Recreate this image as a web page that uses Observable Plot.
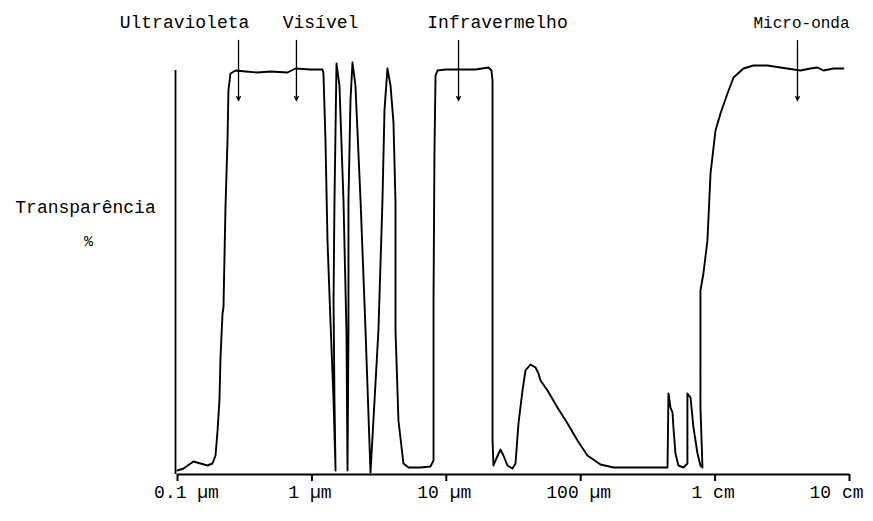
<!DOCTYPE html>
<html>
<head>
<meta charset="utf-8">
<script src="https://cdn.jsdelivr.net/npm/d3@7"></script>
<script src="https://cdn.jsdelivr.net/npm/@observablehq/plot@0.6"></script>
<style>
  html, body { margin: 0; padding: 0; background: #fff; overflow: hidden; }
  #chart svg { display: block; }
</style>
</head>
<body>
<div id="chart"></div>
<script>
// x: log10 of the nominal wavelength position (µm), read along the axis; y: transparency %
const logWavelength = [
  -1.000, -0.955, -0.881, -0.829, -0.777, -0.740, -0.717, -0.702, -0.688, -0.680, -0.665, -0.658, -0.643, -0.628, -0.621, -0.606, -0.568,
  -0.494, -0.405, -0.308, -0.182, -0.122, -0.010, 0.079,
  0.086, 0.101, 0.116, 0.138, 0.161, 0.176,
  0.168, 0.161, 0.168, 0.183,
  0.205, 0.235, 0.257, 0.265,
  0.272, 0.272, 0.287, 0.302,
  0.324, 0.362, 0.399, 0.436,
  0.466, 0.495, 0.525, 0.540, 0.562,
  0.585, 0.607, 0.622, 0.622, 0.644, 0.681, 0.719,
  0.808, 0.882,
  0.905, 0.905, 0.912, 0.920, 0.934,
  0.994, 1.106, 1.217, 1.314, 1.336,
  1.344, 1.344, 1.344, 1.344, 1.351,
  1.366, 1.403, 1.425, 1.455, 1.492, 1.515, 1.537, 1.567, 1.589, 1.626, 1.664, 1.686, 1.701, 1.753, 1.827, 1.902, 1.976, 2.050, 2.147, 2.244, 2.393, 2.646,
  2.653, 2.668, 2.683, 2.690, 2.705, 2.727, 2.765, 2.794, 2.794, 2.817, 2.839, 2.869, 2.891, 2.906,
  2.891, 2.891, 2.913, 2.943, 2.966, 3.003, 3.040, 3.092, 3.137, 3.211, 3.285, 3.390, 3.486, 3.635, 3.710, 3.762, 3.806, 3.881, 3.955
];
const transparency = [
  0, 0.5, 2.25, 1.75, 1.25, 1.75, 3.75, 10, 17.5, 28.25, 39.25, 40.75, 65.75, 82.5, 95, 99.25, 100,
  99.75, 99.5, 99.75, 99.5, 100.5, 100.25, 100.25,
  99.25, 82.5, 57.5, 37.5, 17.5, 0,
  17.5, 42.5, 67.5, 101.75,
  96.25, 67.5, 35, 0,
  35, 67.5, 92.5, 102,
  96.25, 67.5, 35, -0.5,
  17.5, 35, 67.5, 90, 100.5,
  96.25, 87, 67, 35, 12.5, 1.75, 0.75,
  0.75, 1,
  2.5, 42.5, 80, 98.75, 100,
  100.25, 100.25, 100.25, 100.75, 100,
  97.5, 67.5, 30, 7.5, 1.25,
  2.5, 5.25, 3.75, 1.25, 0.5, 1.75, 11.75, 20, 25, 26.5, 25.75, 24.25, 22.5, 20, 15.75, 11.75, 7.5, 3.75, 1.5, 0.75, 0.75, 0.75,
  19.25, 15.75, 14.5, 10.75, 4.25, 1.25, 0.75, 1.75, 19.25, 18.25, 10.75, 4.25, 1.25, 0.75,
  15.75, 45, 49.25, 57.5, 74.25, 85, 89.25, 94.25, 98.25, 100.5, 101.25, 101.25, 100.75, 100, 100.5, 100.75, 100, 100.5, 100.5
];

const tickPositions = [-1, 0, 1, 2, 3, 4];
const tickLabels = ["0.1 µm", "1 µm", "10 µm", "100 µm", "1 cm", "10 cm"];

const regionNames = ["Ultravioleta", "Visível", "Infravermelho"];
const regionLabelX = [-0.948, 0.064, 1.381];
const microName = "Micro-onda";
const microLabelX = 3.643;
const arrowX = [-0.546, -0.115, 1.091, 3.613];

const yTitle = "Transparência";
const yUnit = "%";

const font = "'Liberation Mono', 'DejaVu Sans Mono', monospace";
const idx = d3.range(logWavelength.length);
const mid = [1, 2, 3, 4];

const chart = Plot.plot({
  width: 873,
  height: 521,
  marginLeft: 177,
  marginRight: 24,
  marginTop: 70,
  marginBottom: 47,
  x: {type: "linear", domain: [-1, 4], axis: null},
  y: {type: "linear", domain: [-1, 100], axis: null},
  style: {fontFamily: font, background: "#fff", color: "#000"},
  marks: [
    Plot.ruleY([-1], {stroke: "#000", strokeWidth: 2}),
    Plot.ruleX([-1], {stroke: "#000", strokeWidth: 1.8, dx: -2}),
    Plot.axisX({
      ticks: tickPositions,
      tickFormat: () => "",
      tickSize: 7,
      strokeWidth: 2,
      stroke: "#000"
    }),
    // tick labels
    Plot.text(mid, {
      x: i => tickPositions[i], y: -1, text: i => tickLabels[i],
      dy: 18, dx: -2, fontSize: 18, fill: "#000", lineAnchor: "middle"
    }),
    Plot.text([0], {
      x: i => tickPositions[i], y: -1, text: i => tickLabels[i],
      dy: 18, dx: 9, fontSize: 18, fill: "#000", lineAnchor: "middle"
    }),
    Plot.text([5], {
      x: i => tickPositions[i], y: -1, text: i => tickLabels[i],
      dy: 18, dx: -13, fontSize: 18, fill: "#000", lineAnchor: "middle"
    }),
    Plot.line(idx, {
      x: i => logWavelength[i],
      y: i => transparency[i],
      stroke: "#000",
      strokeWidth: 1.9,
      strokeLinejoin: "round"
    }),
    Plot.arrow(arrowX, {
      x1: d => d, x2: d => d, y1: 107.5, y2: 92.5,
      stroke: "#000", strokeWidth: 1.3, headLength: 5, headAngle: 50
    }),
    Plot.text(regionNames, {
      x: (d, i) => regionLabelX[i],
      y: 112,
      text: d => d,
      fontSize: 18,
      fill: "#000",
      lineAnchor: "middle"
    }),
    Plot.text([microName], {
      x: microLabelX, y: 112, text: d => d, fontSize: 16, fill: "#000", lineAnchor: "middle"
    }),
    Plot.text([yTitle], {
      x: -1, y: 65.75, dx: -92, text: d => d, fontSize: 18, fill: "#000", lineAnchor: "middle"
    }),
    Plot.text([yUnit], {
      x: -1, y: 57.25, dx: -89, text: d => d, fontSize: 15, fill: "#000", lineAnchor: "middle"
    })
  ]
});
document.getElementById("chart").appendChild(chart);
</script>
</body>
</html>
